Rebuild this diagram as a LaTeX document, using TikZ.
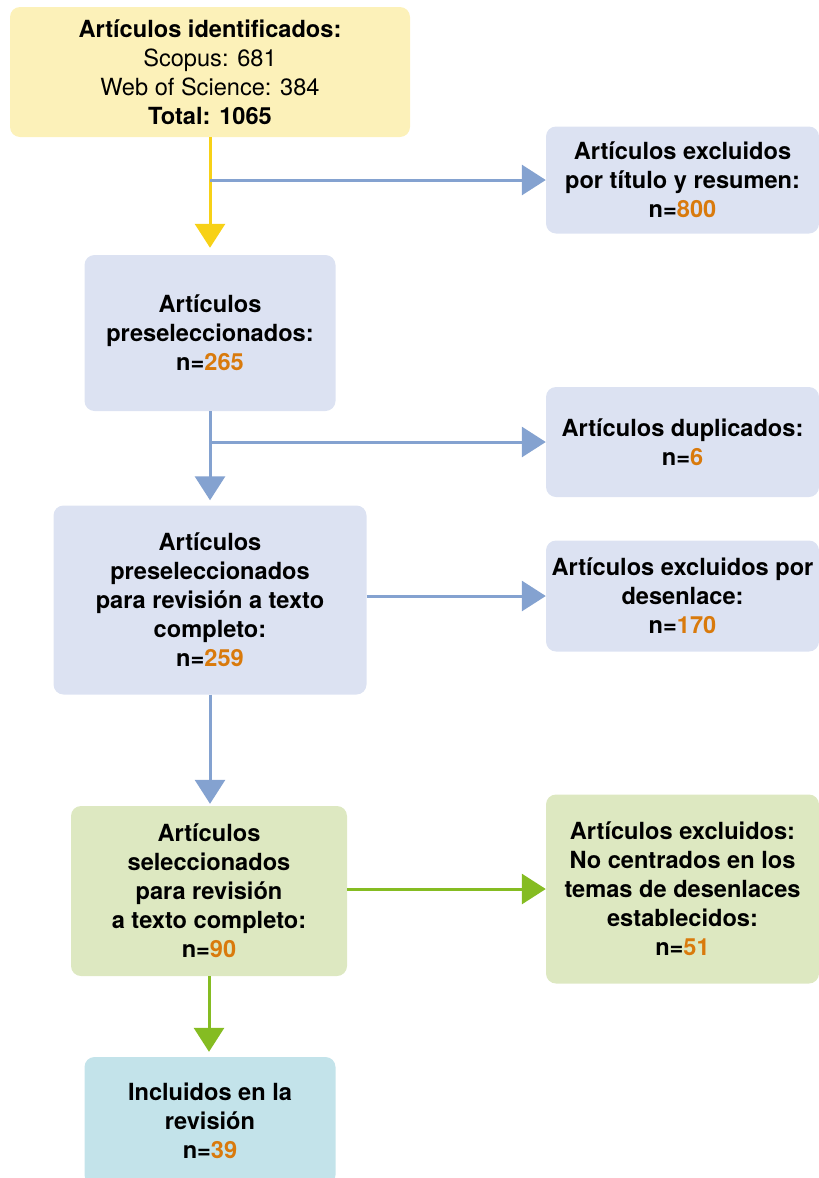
\documentclass[tikz,border=0pt]{standalone}
\usepackage{fontspec}
\setmainfont{TeX Gyre Heros}
\usetikzlibrary{arrows.meta}
\definecolor{fondoamarillo}{HTML}{FCF1B9}
\definecolor{fondoazul}{HTML}{DCE2F2}
\definecolor{fondoverde}{HTML}{DDE8C1}
\definecolor{fondocian}{HTML}{C3E3EA}
\definecolor{flechaamarilla}{HTML}{F7D117}
\definecolor{flechaazul}{HTML}{84A2D0}
\definecolor{flechaverde}{HTML}{85BC22}
\definecolor{naranja}{HTML}{D97A0C}
\newcommand{\cifra}[1]{\textcolor{naranja}{#1}}
\begin{document}
\begin{tikzpicture}[x=1pt,y=-1pt,
  caja/.style={rounded corners=10pt,inner sep=0pt,align=center,
    font=\fontsize{23.6}{29}\selectfont\bfseries},
  flecha/.style={line width=3pt,-{Triangle[length=24pt,width=30pt]}}]
\useasboundingbox (0,0) rectangle (819,1178);
% cajas de la columna principal
\node[caja,fill=fondoamarillo,minimum width=400pt,minimum height=130pt] (ident) at (210,72)
  {Artículos identificados:\\ \mdseries Scopus: 681\\ \mdseries Web of Science: 384\\ Total: 1065};
\node[caja,fill=fondoazul,minimum width=251pt,minimum height=156pt] (presel) at (210,333)
  {Artículos\\ preseleccionados:\\ n=\cifra{265}};
\node[caja,fill=fondoazul,minimum width=313pt,minimum height=189pt] (revtexto) at (210,600)
  {Artículos\\ preseleccionados\\ para revisión a texto\\ completo:\\ n=\cifra{259}};
\node[caja,fill=fondoverde,minimum width=276pt,minimum height=170pt] (selec) at (209,891)
  {Artículos\\ seleccionados\\ para revisión\\ a texto completo:\\ n=\cifra{90}};
\node[caja,fill=fondocian,minimum width=251pt,minimum height=128pt] (incl) at (210,1121)
  {Incluidos en la\\ revisión\\ n=\cifra{39}};
% cajas de exclusiones
\node[caja,fill=fondoazul,minimum width=273pt,minimum height=107pt] (extitulo) at (682.5,180)
  {Artículos excluidos\\ por título y resumen:\\ n=\cifra{800}};
\node[caja,fill=fondoazul,minimum width=273pt,minimum height=110pt] (duplic) at (682.5,442)
  {Artículos duplicados:\\ n=\cifra{6}};
\node[caja,fill=fondoazul,minimum width=273pt,minimum height=111pt] (exdesen) at (682.5,596)
  {Artículos excluidos por\\ desenlace:\\ n=\cifra{170}};
\node[caja,fill=fondoverde,minimum width=273pt,minimum height=189pt] (extemas) at (682.5,889)
  {Artículos excluidos:\\ No centrados en los\\ temas de desenlaces\\ establecidos:\\ n=\cifra{51}};
% flechas
\draw[flecha,flechaamarilla,shorten >=7pt] (ident) -- (presel);
\draw[flecha,flechaazul] (ident.south |- extitulo.west) -- (extitulo.west);
\draw[flecha,flechaazul,shorten >=5pt] (presel) -- (revtexto);
\draw[flecha,flechaazul] (presel.south |- duplic.west) -- (duplic.west);
\draw[flecha,flechaazul,shorten >=2pt] (revtexto.south) -- (revtexto.south |- selec.north);
\draw[flecha,flechaazul] (revtexto.east |- exdesen.west) -- (exdesen.west);
\draw[flecha,flechaverde,shorten >=5pt] (selec.south) -- (selec.south |- incl.north);
\draw[flecha,flechaverde] (selec.east |- extemas.west) -- (extemas.west);
\end{tikzpicture}
\end{document}
